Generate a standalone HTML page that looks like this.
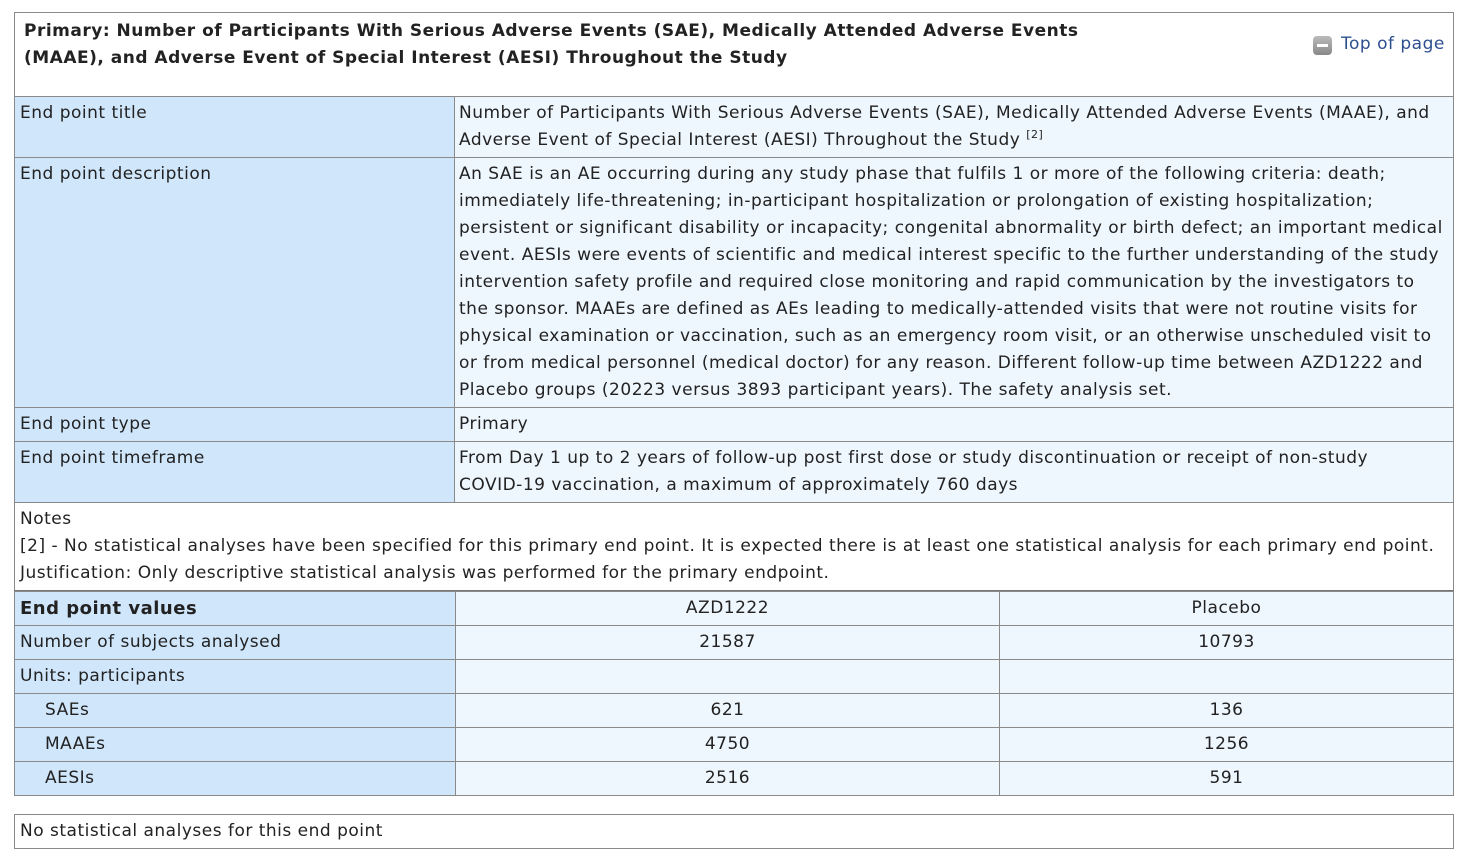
<!DOCTYPE html>
<html><head><meta charset="utf-8"><style>
body{margin:0;width:1467px;height:861px;background:#fff;font-family:"DejaVu Sans","Liberation Sans",sans-serif;font-size:17px;letter-spacing:0.5px;color:#222;position:relative;overflow:hidden}
.b{position:absolute;box-sizing:border-box;border:1px solid #8a8a8a}
.l{background:#d0e6fb}
.v{background:#eef6fe}
.t{position:absolute;white-space:nowrap;line-height:27px}
.c{text-align:center}
sup{font-size:11px;line-height:0;vertical-align:7px}
</style></head><body>
<div class="b" style="left:14px;top:12px;width:1440px;height:85px;border-bottom:none"></div>
<div class="t" style="left:24px;top:18px;font-weight:bold;font-size:17px;letter-spacing:0.5px">Primary: Number of Participants With Serious Adverse Events (SAE), Medically Attended Adverse Events<br>(MAAE), and Adverse Event of Special Interest (AESI) Throughout the Study</div>
<div style="position:absolute;left:1313px;top:36px;width:19px;height:19px;border-radius:4px;background:linear-gradient(#bbb,#888)"><div style="position:absolute;left:4px;top:8px;width:11px;height:3px;background:#fff"></div></div>
<div class="t" style="left:1341px;top:31px;color:#2d4f8e;font-size:17px">Top of page</div>

<div class="b l" style="left:14px;top:96px;width:441px;height:62px"></div>
<div class="b v" style="left:454px;top:96px;width:1000px;height:62px"></div>
<div class="t" style="left:20px;top:100px">End point title</div>
<div class="t" style="left:459px;top:100px">Number of Participants With Serious Adverse Events (SAE), Medically Attended Adverse Events (MAAE), and<br>Adverse Event of Special Interest (AESI) Throughout the Study <sup>[2]</sup></div>

<div class="b l" style="left:14px;top:157px;width:441px;height:251px"></div>
<div class="b v" style="left:454px;top:157px;width:1000px;height:251px"></div>
<div class="t" style="left:20px;top:161px">End point description</div>
<div class="t" style="left:459px;top:161px">An SAE is an AE occurring during any study phase that fulfils 1 or more of the following criteria: death;<br>immediately life-threatening; in-participant hospitalization or prolongation of existing hospitalization;<br>persistent or significant disability or incapacity; congenital abnormality or birth defect; an important medical<br>event. AESIs were events of scientific and medical interest specific to the further understanding of the study<br>intervention safety profile and required close monitoring and rapid communication by the investigators to<br>the sponsor. MAAEs are defined as AEs leading to medically-attended visits that were not routine visits for<br>physical examination or vaccination, such as an emergency room visit, or an otherwise unscheduled visit to<br>or from medical personnel (medical doctor) for any reason. Different follow-up time between AZD1222 and<br>Placebo groups (20223 versus 3893 participant years). The safety analysis set.</div>

<div class="b l" style="left:14px;top:407px;width:441px;height:35px"></div>
<div class="b v" style="left:454px;top:407px;width:1000px;height:35px"></div>
<div class="t" style="left:20px;top:411px">End point type</div>
<div class="t" style="left:459px;top:411px">Primary</div>

<div class="b l" style="left:14px;top:441px;width:441px;height:62px"></div>
<div class="b v" style="left:454px;top:441px;width:1000px;height:62px"></div>
<div class="t" style="left:20px;top:445px">End point timeframe</div>
<div class="t" style="left:459px;top:445px">From Day 1 up to 2 years of follow-up post first dose or study discontinuation or receipt of non-study<br>COVID-19 vaccination, a maximum of approximately 760 days</div>

<div class="b" style="left:14px;top:502px;width:1440px;height:90px;border-top:none"></div>
<div class="t" style="left:20px;top:506px">Notes<br>[2] - No statistical analyses have been specified for this primary end point. It is expected there is at least one statistical analysis for each primary end point.<br>Justification: Only descriptive statistical analysis was performed for the primary endpoint.</div>

<div style="position:absolute;left:14px;top:590px;width:1440px;height:2px;background:#777"></div>
<div class="b l" style="left:14px;top:591px;width:442px;height:205px"></div>
<div class="b v" style="left:455px;top:591px;width:545px;height:205px"></div>
<div class="b v" style="left:999px;top:591px;width:455px;height:205px"></div>
<div style="position:absolute;left:14px;top:625px;width:1440px;height:1px;background:#8a8a8a"></div>
<div style="position:absolute;left:14px;top:659px;width:1440px;height:1px;background:#8a8a8a"></div>
<div style="position:absolute;left:14px;top:693px;width:1440px;height:1px;background:#8a8a8a"></div>
<div style="position:absolute;left:14px;top:727px;width:1440px;height:1px;background:#8a8a8a"></div>
<div style="position:absolute;left:14px;top:761px;width:1440px;height:1px;background:#8a8a8a"></div>
<div class="t" style="left:20px;top:595px;font-weight:bold;font-size:18px">End point values</div>
<div class="t" style="left:20px;top:629px">Number of subjects analysed</div>
<div class="t" style="left:20px;top:663px">Units: participants</div>
<div class="t" style="left:45px;top:697px">SAEs</div>
<div class="t" style="left:45px;top:731px">MAAEs</div>
<div class="t" style="left:45px;top:765px">AESIs</div>
<div class="t c" style="left:455px;width:545px;top:595px">AZD1222</div>
<div class="t c" style="left:455px;width:545px;top:629px">21587</div>
<div class="t c" style="left:455px;width:545px;top:697px">621</div>
<div class="t c" style="left:455px;width:545px;top:731px">4750</div>
<div class="t c" style="left:455px;width:545px;top:765px">2516</div>
<div class="t c" style="left:999px;width:455px;top:595px">Placebo</div>
<div class="t c" style="left:999px;width:455px;top:629px">10793</div>
<div class="t c" style="left:999px;width:455px;top:697px">136</div>
<div class="t c" style="left:999px;width:455px;top:731px">1256</div>
<div class="t c" style="left:999px;width:455px;top:765px">591</div>

<div class="b" style="left:14px;top:814px;width:1440px;height:35px"></div>
<div class="t" style="left:20px;top:818px">No statistical analyses for this end point</div>
</body></html>
